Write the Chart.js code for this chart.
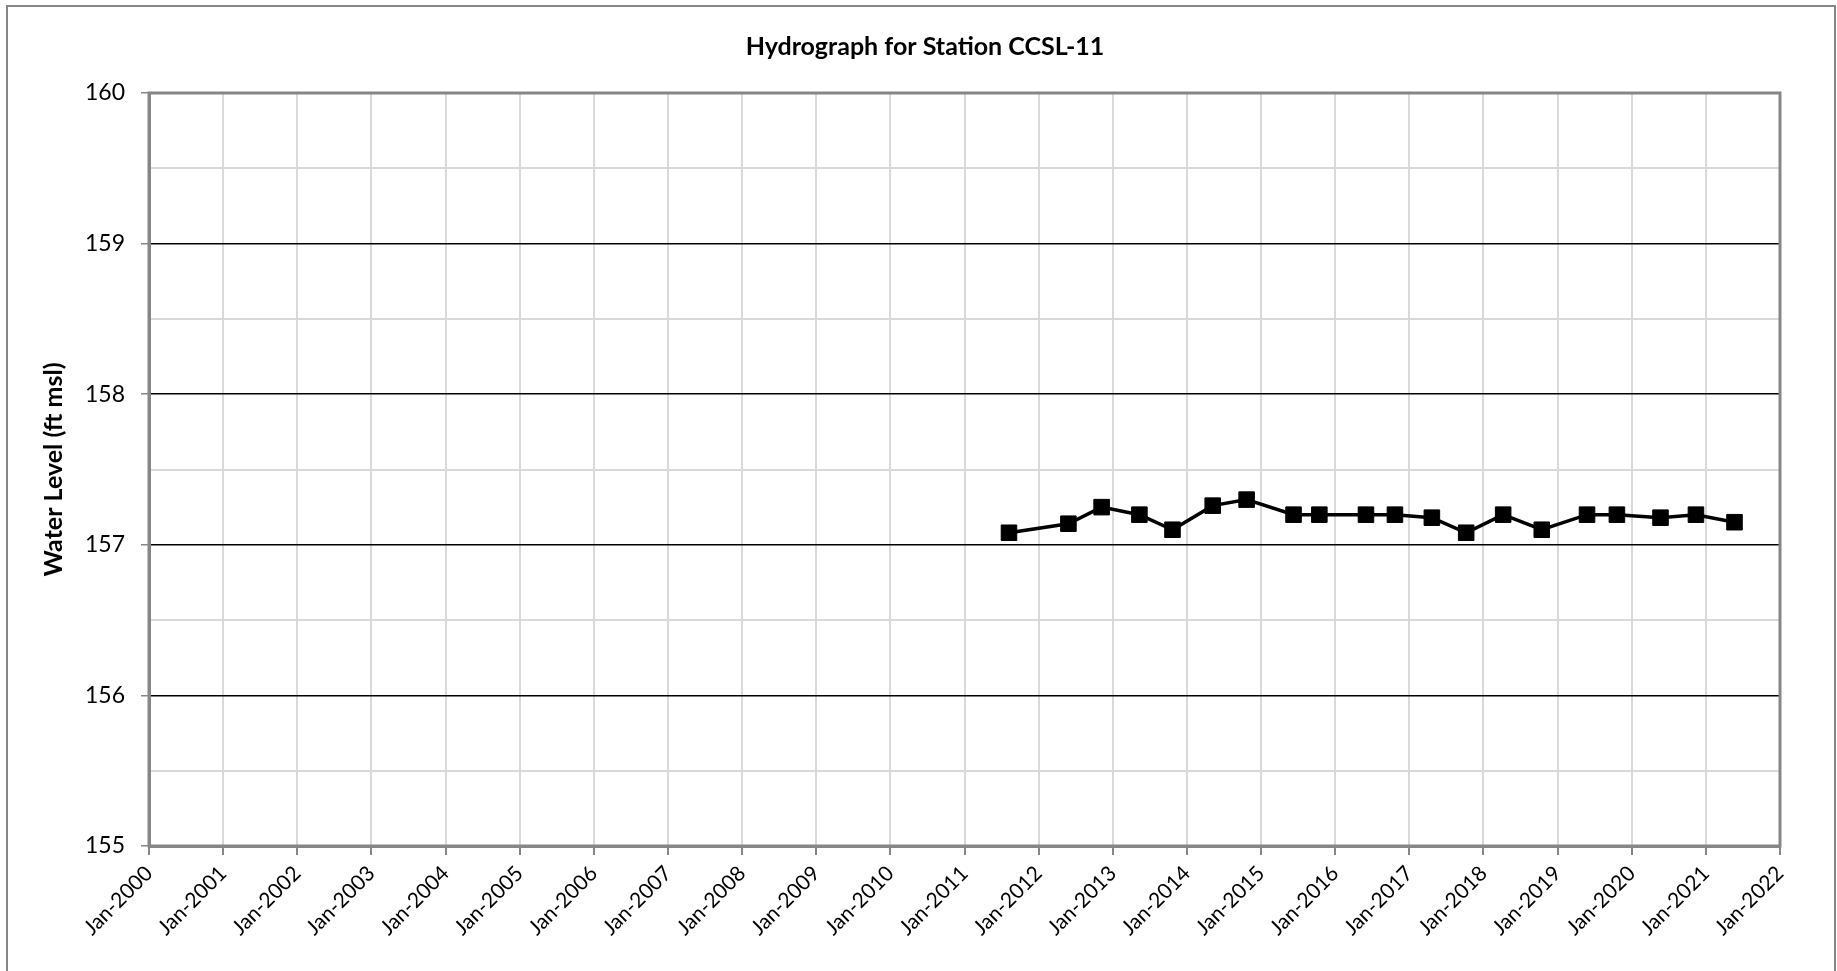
<!DOCTYPE html>
<html>
<head>
<meta charset="utf-8">
<title>Hydrograph for Station CCSL-11</title>
<script src="https://cdn.jsdelivr.net/npm/chart.js@4.4.1/dist/chart.umd.min.js"></script>
<style>
  html, body { margin: 0; padding: 0; background: #fff; }
  #wrap { width: 1837px; height: 971px; }
</style>
</head>
<body>
<div id="wrap"><canvas id="hydro_chart" width="1837" height="971"></canvas></div>
<script>
// sample dates and measured water levels (ft msl)
var sampleDates = ["2011-08-08", "2012-05-27", "2012-11-07", "2013-05-12", "2013-10-22",
    "2014-05-08", "2014-10-22", "2015-06-10", "2015-10-15", "2016-06-01",
    "2016-10-22", "2017-04-22", "2017-10-08", "2018-04-08", "2018-10-15",
    "2019-05-26", "2019-10-20", "2020-05-22", "2020-11-13", "2021-05-22"];
var waterLevels = [157.08, 157.14, 157.25, 157.20, 157.10,
    157.26, 157.30, 157.20, 157.20, 157.20,
    157.20, 157.18, 157.08, 157.20, 157.10,
    157.20, 157.20, 157.18, 157.20, 157.15];
var yearRange = [2000, 2022];
var levelRange = [155, 160];

// date string -> fractional year so a linear axis can place it
function toYear(s) {
    var p = s.split("-");
    var y = +p[0];
    var start = Date.UTC(y, 0, 1), end = Date.UTC(y + 1, 0, 1);
    var t = Date.UTC(y, +p[1] - 1, +p[2]);
    return y + (t - start) / (end - start);
}

var points = sampleDates.map(function (d, i) {
    return { x: toYear(d), y: waterLevels[i] };
});

var frame = {
    id: 'frame',
    beforeDraw: function (chart) {
        var ctx = chart.ctx;
        ctx.save();
        ctx.fillStyle = '#fff';
        ctx.fillRect(0, 0, chart.width, chart.height);
        ctx.strokeStyle = '#868686';
        ctx.lineWidth = 2;
        ctx.strokeRect(7, 6, chart.width - 9, chart.height + 10);
        ctx.restore();
    },
    afterDraw: function (chart) {
        var a = chart.chartArea, ctx = chart.ctx;
        ctx.save();
        ctx.strokeStyle = '#868686';
        ctx.lineWidth = 3;
        ctx.strokeRect(a.left, a.top, a.right - a.left, a.bottom - a.top);
        ctx.restore();
    }
};

new Chart(document.getElementById("hydro_chart").getContext("2d"), {
    type: 'line',
    data: {
        datasets: [{
            label: "Water Level",
            data: points,
            borderColor: '#000',
            backgroundColor: '#000',
            borderWidth: 3.5,
            pointStyle: 'rect',
            pointRadius: 11,
            pointBorderWidth: 1,
            pointBackgroundColor: '#000',
            pointBorderColor: '#000',
            tension: 0
        }]
    },
    options: {
        responsive: false,
        animation: false,
        layout: { padding: { left: 13, top: 0, right: 0, bottom: 0 } },
        plugins: {
            legend: { display: false },
            tooltip: { enabled: false },
            title: {
                display: true,
                text: 'Hydrograph for Station CCSL-11',
                color: '#000',
                font: { family: 'Lato', size: 25, weight: 'bold' },
                padding: { top: 32, bottom: 31 }
            }
        },
        scales: {
            x: {
                type: 'linear',
                min: yearRange[0],
                max: yearRange[1],
                afterFit: function (s) { s.height = 125; },
                ticks: {
                    stepSize: 1,
                    autoSkip: false,
                    maxRotation: 45,
                    minRotation: 45,
                    padding: 6,
                    color: '#000',
                    font: { family: 'Lato', size: 21 },
                    callback: function (v) { return 'Jan-' + v; }
                },
                grid: {
                    color: '#d9d9d9',
                    lineWidth: 2,
                    tickColor: '#868686',
                    tickLength: 9
                },
                border: { color: '#868686', width: 3 }
            },
            y: {
                min: levelRange[0],
                max: levelRange[1],
                afterFit: function (s) { s.width = 136; },
                title: {
                    display: true,
                    text: 'Water Level (ft msl)',
                    color: '#000',
                    font: { family: 'Lato', size: 25, weight: 'bold' },
                    padding: { top: 26, bottom: 0 }
                },
                ticks: {
                    stepSize: 0.5,
                    padding: 16,
                    color: '#000',
                    font: { family: 'Lato', size: 23 },
                    callback: function (v) { return Number.isInteger(v) ? v : ''; }
                },
                grid: {
                    color: function (c) { return Number.isInteger(c.tick.value) ? '#000' : '#d9d9d9'; },
                    lineWidth: function (c) { return Number.isInteger(c.tick.value) ? 1.5 : 2; },
                    tickColor: function (c) { return Number.isInteger(c.tick.value) ? '#868686' : 'rgba(0,0,0,0)'; },
                    tickLength: 8
                },
                border: { color: '#868686', width: 3 }
            },
            // empty right-hand margin box so the title centres on the whole frame
            yRight: {
                position: 'right',
                afterFit: function (s) { s.width = 57; },
                ticks: { display: false },
                grid: { display: false },
                border: { display: false }
            }
        }
    },
    plugins: [frame]
});
</script>
</body>
</html>
